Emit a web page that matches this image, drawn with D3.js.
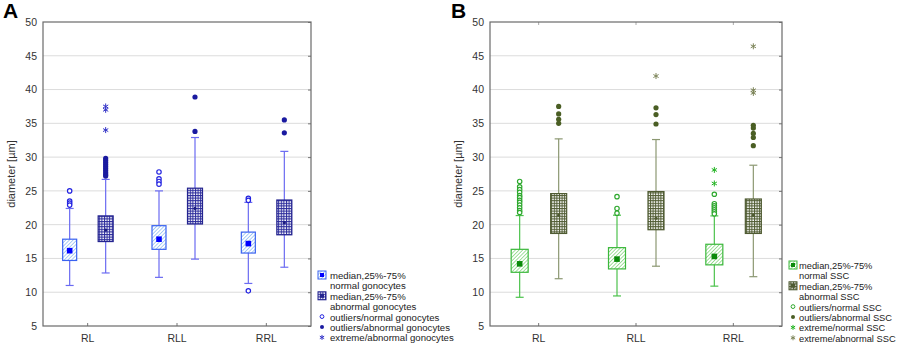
<!DOCTYPE html>
<html>
<head>
<meta charset="utf-8">
<script src="https://cdn.jsdelivr.net/npm/d3@7"></script>
<style>
  body { margin: 0; background: #fff; }
  svg { font-family: "Liberation Sans", Arial, sans-serif; }
</style>
</head>
<body>
<svg id="chart" width="899" height="347"></svg>
<script>
// categories and y ticks
const categories = ["RL", "RLL", "RRL"];
const yTicks = [5, 10, 15, 20, 25, 30, 35, 40, 45, 50];

// box stats: [whisker low, q1, median, q3, whisker high] per category
const gonoNormalBox = [[11.0, 14.7, 16.15, 17.85, 22.4], [12.2, 16.35, 17.85, 19.85, 25.0], [11.3, 15.8, 17.2, 18.9, 23.3]];
const gonoAbnormalBox = [[12.85, 17.5, 19.2, 21.3, 26.7], [14.9, 20.1, 22.4, 25.4, 32.9], [13.7, 18.5, 20.3, 23.65, 30.85]];
const gonoNormalOutliers = [[25.0, 23.5, 23.2, 22.9], [27.8, 26.8, 26.4, 26.0], [23.9, 23.6, 10.2]];
const gonoAbnormalOutliers = [[29.8, 29.5, 29.2, 28.9, 28.6, 28.3, 28.0, 27.7, 27.4, 27.2], [38.9, 33.8], [35.5, 33.6]];
const gonoAbnormalExtremes = [[37.5, 37.0, 34.0], [], []];

const sscNormalBox = [[9.25, 12.95, 14.2, 16.35, 21.35], [9.45, 13.45, 14.9, 16.6, 21.4], [10.9, 14.05, 15.3, 17.1, 21.3]];
const sscAbnormalBox = [[12.0, 18.7, 21.4, 24.6, 32.7], [13.85, 19.25, 20.95, 24.9, 32.6], [12.3, 18.7, 21.4, 23.8, 28.8]];
const sscNormalOutliers = [[26.4, 25.6, 25.2, 24.8, 24.3, 24.0, 23.6, 23.3, 22.9, 22.5, 22.1, 21.8], [24.15, 22.4, 21.7], [24.5, 23.1, 22.8, 22.5, 22.2, 21.9, 21.6]];
const sscNormalExtremes = [[], [], [28.1, 26.1]];
const sscAbnormalOutliers = [[37.5, 36.4, 35.6, 35.0], [37.3, 36.3, 34.9], [34.7, 34.3, 33.5, 32.9, 31.7]];
const sscAbnormalExtremes = [[], [42.0], [46.4, 39.9, 39.5]];

const legendA = ["median,25%-75%", "normal gonocytes", "median,25%-75%", "abnormal gonocytes",
  "outliers/normal gonocytes", "outliers/abnormal gonocytes", "extreme/abnormal gonocytes"];
const legendB = ["median,25%-75%", "normal SSC", "median,25%-75%", "abnormal SSC",
  "outliers/normal SSC", "outliers/abnormal SSC", "extreme/normal SSC", "extreme/abnormal SSC"];

const svg = d3.select("#chart");
const defs = svg.append("defs");

// hatch and grid patterns
function hatch(id, color) {
  const p = defs.append("pattern").attr("id", id).attr("patternUnits", "userSpaceOnUse")
    .attr("width", 2.6).attr("height", 2.6).attr("patternTransform", "rotate(45)");
  p.append("rect").attr("width", 2.6).attr("height", 2.6).attr("fill", "#fff");
  p.append("line").attr("x1", 0).attr("y1", 0).attr("x2", 0).attr("y2", 2.6)
    .attr("stroke", color).attr("stroke-width", 1.4);
}
function grid(id, color) {
  const p = defs.append("pattern").attr("id", id).attr("patternUnits", "userSpaceOnUse")
    .attr("width", 2.6).attr("height", 2.6);
  p.append("rect").attr("width", 2.6).attr("height", 2.6).attr("fill", "#fff");
  p.append("path").attr("d", "M0,0.5H2.6M0.5,0V2.6").attr("stroke", color).attr("stroke-width", 1);
}
hatch("hatchBlue", "#86b8f2");
grid("gridNavy", "#2b2b9b");
hatch("hatchGreen", "#7ad372");
grid("gridOlive", "#4f5b32");

function star(g, x, y, color, size) {
  const s = size || 3;
  const p = g.append("g").attr("transform", `translate(${x},${y})`).attr("stroke", color).attr("stroke-width", 1);
  [0, 60, 120].forEach(a => {
    const r = a * Math.PI / 180;
    p.append("line").attr("x1", -s * Math.sin(r)).attr("y1", -s * Math.cos(r))
      .attr("x2", s * Math.sin(r)).attr("y2", s * Math.cos(r));
  });
}

function drawPanel(cfg) {
  const g = svg.append("g");
  const x = d3.scaleBand().domain(categories).range([cfg.left, cfg.right]);
  const y = d3.scaleLinear().domain([5, 50]).range([cfg.bottom, cfg.top]);

  // gridlines
  g.selectAll(".grid").data(yTicks.filter(t => t > 5 && t < 50)).enter().append("line")
    .attr("x1", cfg.left).attr("x2", cfg.right)
    .attr("y1", d => y(d)).attr("y2", d => y(d))
    .attr("stroke", "#dcdcdc").attr("stroke-width", 1);

  // left axis labels
  const yAxis = g.append("g").attr("transform", `translate(${cfg.left},0)`)
    .call(d3.axisLeft(y).tickValues(yTicks).tickSize(0).tickPadding(6));
  yAxis.select(".domain").remove();
  yAxis.selectAll("text").attr("font-size", 10.5).attr("fill", "#333").attr("font-family", "Liberation Sans, Arial");

  // right inward ticks
  g.append("g").attr("transform", `translate(${cfg.right},0)`)
    .call(d3.axisRight(y).tickValues(yTicks).tickSize(-3).tickFormat(""))
    .call(a => a.select(".domain").remove())
    .selectAll("line").attr("stroke", "#777");

  // bottom axis labels + inward ticks
  const xAxis = g.append("g").attr("transform", `translate(0,${cfg.bottom})`)
    .call(d3.axisBottom(x).tickSize(-3).tickPadding(9));
  xAxis.select(".domain").remove();
  xAxis.selectAll("line").attr("stroke", "#777");
  xAxis.selectAll("text").attr("font-size", 10.5).attr("fill", "#333").attr("font-family", "Liberation Sans, Arial");
  if (cfg.topTicks) {
    g.append("g").attr("transform", `translate(0,${cfg.top})`)
      .call(d3.axisTop(x).tickSize(-3).tickFormat(""))
      .call(a => a.select(".domain").remove())
      .selectAll("line").attr("stroke", "#aaa");
  }

  // frame
  g.append("rect").attr("x", cfg.left).attr("y", cfg.top)
    .attr("width", cfg.right - cfg.left).attr("height", cfg.bottom - cfg.top)
    .attr("fill", "none").attr("stroke", "#6a6a6a").attr("stroke-width", 1.2);

  // y title
  g.append("text").attr("transform", `translate(${cfg.titleX},${(cfg.top + cfg.bottom) / 2}) rotate(-90)`)
    .attr("text-anchor", "middle").attr("font-size", 11).attr("fill", "#333").text("diameter [µm]");

  // panel letter
  g.append("text").attr("x", cfg.letterX).attr("y", 18).attr("font-size", 21).attr("font-weight", "bold")
    .attr("font-family", "Liberation Sans, Arial").attr("fill", "#000").text(cfg.letter);

  cfg.series.forEach(s => {
    categories.forEach((c, i) => {
      const cx = x(c) + x.bandwidth() / 2 + s.offset;
      const b = s.box[i];
      const sg = g.append("g");
      // whisker
      sg.append("line").attr("x1", cx).attr("x2", cx).attr("y1", y(b[0])).attr("y2", y(b[4]))
        .attr("stroke", s.whisker).attr("stroke-width", 1.2);
      [b[0], b[4]].forEach(v => sg.append("line").attr("x1", cx - 4).attr("x2", cx + 4)
        .attr("y1", y(v)).attr("y2", y(v)).attr("stroke", s.whisker).attr("stroke-width", 1.2));
      // box
      sg.append("rect").attr("x", cx - s.boxW / 2).attr("y", y(b[3]))
        .attr("width", s.boxW).attr("height", y(b[1]) - y(b[3]))
        .attr("fill", `url(#${s.pattern})`).attr("stroke", s.stroke).attr("stroke-width", 1.2);
      // median
      if (s.medianSquare) {
        sg.append("rect").attr("x", cx - 2.8).attr("y", y(b[2]) - 2.8).attr("width", 5.6).attr("height", 5.6)
          .attr("fill", s.medianColor);
      } else {
        sg.append("circle").attr("cx", cx).attr("cy", y(b[2])).attr("r", 1.6).attr("fill", s.medianColor);
      }
      // outliers
      (s.outliers ? s.outliers[i] : []).forEach(v => {
        sg.append("circle").attr("cx", cx).attr("cy", y(v)).attr("r", s.hollow ? 2.2 : 2.6)
          .attr("fill", s.hollow ? "#fff" : s.outColor)
          .attr("stroke", s.outColor).attr("stroke-width", s.hollow ? 1.2 : 0);
      });
      (s.extremes ? s.extremes[i] : []).forEach(v => star(sg, cx, y(v), s.starColor));
    });
  });

  // legend
  const lg = g.append("g");
  cfg.legend.forEach((t, i) => {
    lg.append("text").attr("x", cfg.legX + cfg.legIndent).attr("y", cfg.legY + i * 10.4)
      .attr("font-size", cfg.legFont).attr("fill", "#222").text(t);
  });
  const iconY = i => cfg.legY + i * 10.4 - 4;
  cfg.legendIcons.forEach(ic => {
    const cx = cfg.legX + 4, cy = iconY(ic.row);
    if (ic.type === "box") {
      lg.append("rect").attr("x", cx - 4).attr("y", cy - 4).attr("width", 8).attr("height", 8)
        .attr("fill", `url(#${ic.pattern})`).attr("stroke", ic.stroke).attr("stroke-width", 1);
      lg.append("rect").attr("x", cx - 2).attr("y", cy - 2).attr("width", 4).attr("height", 4).attr("fill", ic.median);
    } else if (ic.type === "hollow") {
      lg.append("circle").attr("cx", cx).attr("cy", cy).attr("r", 1.9).attr("fill", "#fff")
        .attr("stroke", ic.color).attr("stroke-width", 1);
    } else if (ic.type === "dot") {
      lg.append("circle").attr("cx", cx).attr("cy", cy).attr("r", 2).attr("fill", ic.color);
    } else {
      star(lg, cx, cy, ic.color, 2.5);
    }
  });
}

drawPanel({
  letter: "A", letterX: 3, titleX: 15,
  left: 43, right: 311, top: 22, bottom: 326, topTicks: false,
  series: [
    { offset: -18, boxW: 14, box: gonoNormalBox, pattern: "hatchBlue", stroke: "#3a63f0", whisker: "#6b6bf2",
      medianSquare: true, medianColor: "#0000ff", outliers: gonoNormalOutliers, hollow: true, outColor: "#2323e0" },
    { offset: 18, boxW: 15, box: gonoAbnormalBox, pattern: "gridNavy", stroke: "#24248f", whisker: "#6b6bf2",
      medianSquare: false, medianColor: "#1a1a80", outliers: gonoAbnormalOutliers, hollow: false, outColor: "#1a1aa0",
      extremes: gonoAbnormalExtremes, starColor: "#3535c8" }
  ],
  legend: legendA, legX: 318, legY: 279, legIndent: 12, legFont: 9.6,
  legendIcons: [
    { row: 0, type: "box", pattern: "hatchBlue", stroke: "#3a63f0", median: "#0000ff" },
    { row: 2, type: "box", pattern: "gridNavy", stroke: "#24248f", median: "#24248f" },
    { row: 4, type: "hollow", color: "#2323e0" },
    { row: 5, type: "dot", color: "#1a1aa0" },
    { row: 6, type: "star", color: "#3535c8" }
  ]
});

drawPanel({
  letter: "B", letterX: 451, titleX: 462,
  left: 490, right: 782, top: 22, bottom: 326, topTicks: true,
  series: [
    { offset: -19, boxW: 17, box: sscNormalBox, pattern: "hatchGreen", stroke: "#3cb83c", whisker: "#4cc24c",
      medianSquare: true, medianColor: "#0a8a0a", outliers: sscNormalOutliers, hollow: true, outColor: "#2ea82e",
      extremes: sscNormalExtremes, starColor: "#22b422" },
    { offset: 20, boxW: 16, box: sscAbnormalBox, pattern: "gridOlive", stroke: "#4f5b32", whisker: "#8c9872",
      medianSquare: false, medianColor: "#4f5b32", outliers: sscAbnormalOutliers, hollow: false, outColor: "#4a5e24",
      extremes: sscAbnormalExtremes, starColor: "#7c8458" }
  ],
  legend: legendB, legX: 789, legY: 269, legIndent: 10, legFont: 9.3,
  legendIcons: [
    { row: 0, type: "box", pattern: "hatchGreen", stroke: "#3cb83c", median: "#0a8a0a" },
    { row: 2, type: "box", pattern: "gridOlive", stroke: "#4f5b32", median: "#4f5b32" },
    { row: 4, type: "hollow", color: "#2ea82e" },
    { row: 5, type: "dot", color: "#4a5e24" },
    { row: 6, type: "star", color: "#22b422" },
    { row: 7, type: "star", color: "#7c8458" }
  ]
});
</script>
</body>
</html>
